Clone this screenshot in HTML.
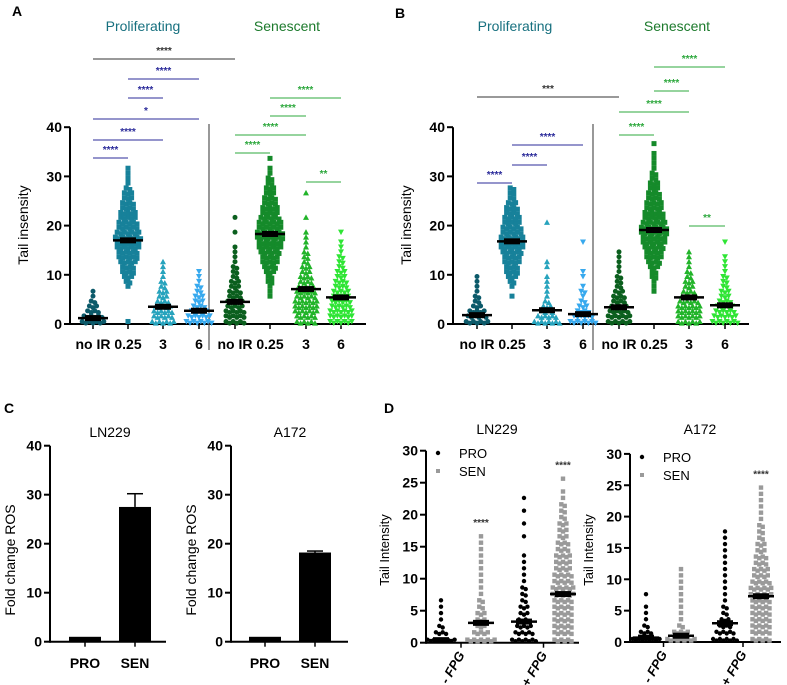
<!DOCTYPE html>
<html><head><meta charset="utf-8"><style>
html,body{margin:0;padding:0;background:#fff;}
svg{display:block;font-family:"Liberation Sans",sans-serif;}
.tk{font-weight:bold;font-size:14px;}
.xl{font-weight:bold;font-size:14px;}
</style></head><body>
<svg id="fig" width="787" height="685" viewBox="0 0 787 685" xmlns="http://www.w3.org/2000/svg">
<text x="12" y="16" font-weight="bold" font-size="14">A</text>
<text x="395" y="18" font-weight="bold" font-size="14">B</text>
<text x="4" y="413" font-weight="bold" font-size="14">C</text>
<text x="384" y="413" font-weight="bold" font-size="14">D</text>
<g id="g"></g>
</svg>
<script>
// ---- Panel A data (counts per 1-unit bin, starting at 0) ----
const catsAB = ["no IR","0.25","3","6","no IR","0.25","3","6"];
const yTicksAB = [0,10,20,30,40];
const aCounts = [
 [7,6,4,3,2,1,1],
 [1,0,0,0,0,0,0,1,2,3,4,4,5,6,6,7,7,8,7,6,6,5,5,4,4,3,3,2,1,1,1,1],
 [7,6,6,5,4,3,3,2,2,1,1,1,1],
 [8,7,5,4,3,3,2,2,1,1,1],
 [6,6,6,5,5,4,4,3,3,2,2,2,1,1,1,1,0,0,1,0,0,1],
 [0,0,0,0,0,1,1,1,2,2,3,4,5,5,6,7,7,8,8,7,7,6,5,5,4,4,3,3,2,2,1,1,0,1],
 [6,6,7,7,7,6,6,5,4,4,3,3,2,2,2,1,1,1,1,0,0,1,0,0,0,0,1],
 [7,7,7,6,6,5,5,4,4,3,3,2,2,2,1,1,1,0,1]
];
const aMeans = [1.2,17.0,3.5,2.7,4.5,18.3,7.1,5.4];
// ---- Panel B data ----
const bCounts = [
 [7,6,5,3,2,2,1,1,1,1],
 [0,0,0,0,0,1,0,1,2,3,4,4,5,5,6,7,7,7,6,6,5,5,4,4,3,2,2,2],
 [8,6,4,3,2,1,1,1,1,1,0,1,1,0,0,0,0,0,0,0,1],
 [8,6,4,3,2,1,2,1,0,1,1,0,0,0,0,0,1],
 [7,7,6,5,4,4,3,2,2,2,1,1,1,1,1],
 [0,0,0,0,0,0,1,1,1,2,2,3,4,5,5,6,7,7,8,8,7,6,6,5,5,4,4,3,3,2,2,1,1,1,1,0,1],
 [7,7,7,7,6,5,4,3,3,2,2,1,1,1,1],
 [8,7,6,5,4,3,3,2,2,2,1,1,1,1,0,0,1]
];
const bMeans = [1.8,16.8,2.8,2.0,3.4,19.1,5.4,3.8];
// ---- Panel C data ----
const cCats = ["PRO","SEN"];
const cTicks = [0,10,20,30,40];
const cLN229 = [1,27.5];
const cLN229Err = [0,2.7];
const cA172 = [1,18.2];
const cA172Err = [0,0.3];
// ---- Panel D data ----
const dCats = ["- FPG","+ FPG"];
const dTicks = [0,5,10,15,20,25,30];
const dLN229Counts = [
 [9,4,2,1,1,1,1],
 [9,5,3,3,3,2,2,1,1,1,1,1,1,1,1,1,1],
 [8,6,5,4,3,3,2,2,2,1,1,1,1,1,0,0,1,0,1,0,1,0,1],
 [6,6,6,6,6,6,6,7,7,6,6,5,5,5,4,4,3,3,3,2,2,2,1,1,0,1]
];
const dLN229Means = [0.4,3.1,3.3,7.6];
const dLN229Sig = ["","****","","****"];
const dA172Counts = [
 [9,4,2,1,1,1,0,1],
 [9,5,2,1,1,1,1,1,1,1,1,1],
 [8,6,4,3,2,2,1,1,1,1,1,1,1,1,1,1,1,1],
 [6,6,6,6,6,6,6,7,7,6,5,5,4,4,3,3,2,2,2,1,1,1,1,1,1]
];
const dA172Means = [0.7,1.0,3.0,7.3];
const dA172Sig = ["","","","****"];

const NS="http://www.w3.org/2000/svg";
const G=document.getElementById('g');
function el(tag,attrs,parent){const e=document.createElementNS(NS,tag);for(const k in attrs)e.setAttribute(k,attrs[k]);(parent||G).appendChild(e);return e;}
function txt(x,y,s,attrs){const e=el('text',Object.assign({x:x,y:y},attrs||{}));e.textContent=s;return e;}

function yAxis(x0,ys,ticks,name){
  const g=el('g',{});
  
  
  el('line',{x1:x0,x2:x0,y1:ys(ticks[ticks.length-1]),y2:ys(ticks[0])+1,stroke:'#000','stroke-width':2},g);
  ticks.forEach(t=>{el('line',{x1:x0-6,x2:x0,y1:ys(t),y2:ys(t),stroke:'#000','stroke-width':2},g);
    const e=txt(x0-8,ys(t)+5,String(t),{'text-anchor':'end',class:'tk'});g.appendChild(e);});
}
function xAxis(x0,x1,y,xs,name){
  const g=el('g',{});
  
  
  el('line',{x1:x0,x2:x1,y1:y,y2:y,stroke:'#000','stroke-width':2},g);
  xs.forEach(x=>el('line',{x1:x,x2:x,y1:y,y2:y+5,stroke:'#000','stroke-width':1.5},g));
}
function marker(g,x,y,shape,color,sz){
  let e;
  if(shape==='c') e=el('circle',{cx:x,cy:y,r:sz/2,fill:color},g);
  else if(shape==='s') e=el('rect',{x:x-sz/2,y:y-sz/2,width:sz,height:sz,fill:color},g);
  else if(shape==='t') e=el('polygon',{points:`${x},${y-sz/2-0.5} ${x-sz/2-0.5},${y+sz/2} ${x+sz/2+0.5},${y+sz/2}`,fill:color},g);
  else e=el('polygon',{points:`${x},${y+sz/2+0.5} ${x-sz/2-0.5},${y-sz/2} ${x+sz/2+0.5},${y-sz/2}`,fill:color},g);
  return e;
}
function swarm(x,ys,counts,color,shape,sp,sz,name){
  const g=el('g',{});
  
  
  counts.forEach((n,i)=>{
    const y=i===0?ys(0.35):ys(i+0.5);
    for(let j=0;j<n;j++){
      const off=(j-(n-1)/2)*sp;
      const m=marker(g,x+off,y+((j%2)?1:-1)*0.8,shape,color,sz);
      
      
    }
  });
}
function meanBar(x,ys,v,w,name){
  const g=el('g',{});
  
  
  el('rect',{x:x-8,y:ys(v)-3,width:16,height:6,fill:'#000'},g);
  el('line',{x1:x-w/2,x2:x+w/2,y1:ys(v),y2:ys(v),stroke:'#000','stroke-width':2.5},g);
}
function sig(x1,x2,y,label,color,name){
  const g=el('g',{});
  
  
  el('line',{x1:x1,x2:x2,y1:y,y2:y,stroke:color,'stroke-width':1},g);
  const t=txt((x1+x2)/2,y-5,label,{'text-anchor':'middle','font-size':10,'font-weight':'bold',fill:color});g.appendChild(t);
}

// ---------- Panels A & B ----------
const colorsAB=['#0c5a6a','#17819a','#27a3bd','#37a9ee','#0b5f1e','#158a2a','#22b42a','#2fe535'];
const shapesAB=['c','s','t','v','c','s','t','v'];
function panelAB(cfg,counts,means,tag){
  const ys=v=>324-v*4.92;
  yAxis(cfg.ax,ys,yTicksAB,tag+'-y-axis');
  xAxis(cfg.ax,cfg.end,324,cfg.xs,tag+'-x-axis');
  const dv=el('line',{x1:cfg.div,x2:cfg.div,y1:124,y2:350,stroke:'#555','stroke-width':1.2});
  
  
  counts.forEach((c,i)=>swarm(cfg.xs[i],ys,c,colorsAB[i],shapesAB[i],3.6,5,tag+'-swarm-'+i));
  means.forEach((m,i)=>meanBar(cfg.xs[i],ys,m,30,tag+'-mean-'+i));
  catsAB.forEach((c,i)=>{const t=txt(cfg.xs[i],349,c,{'text-anchor':'middle',class:'xl'});
    
    });
  const yl=txt(0,0,'Tail insensity',{'text-anchor':'middle','font-size':14,transform:`translate(${cfg.ax-42},225) rotate(-90)`});
  
  
  const p=txt(cfg.pt,31,'Proliferating',{'text-anchor':'middle','font-size':14,fill:'#17707f'});
  
  
  const s=txt(cfg.st,31,'Senescent',{'text-anchor':'middle','font-size':14,fill:'#1c7a2c'});
  
  
}
const xsA=[93,128,163,199,235,270,306,341];
panelAB({ax:70,end:366,div:209,xs:xsA,pt:143,st:287},aCounts,aMeans,'panel-a');
const blue='#2b2b9a', grn='#2ea83e';
sig(xsA[0],xsA[4],59,'****','#333','a-sig-black');
sig(xsA[1],xsA[3],79,'****',blue,'a-sig-1');
sig(xsA[1],xsA[2],98,'****',blue,'a-sig-2');
sig(xsA[0],xsA[3],119,'*',blue,'a-sig-3');
sig(xsA[0],xsA[2],140,'****',blue,'a-sig-4');
sig(xsA[0],xsA[1],158,'****',blue,'a-sig-5');
sig(xsA[5],xsA[7],98,'****',grn,'a-sig-6');
sig(xsA[5],xsA[6],116,'****',grn,'a-sig-7');
sig(xsA[4],xsA[6],135,'****',grn,'a-sig-8');
sig(xsA[4],xsA[5],153,'****',grn,'a-sig-9');
sig(xsA[6],xsA[7],182,'**',grn,'a-sig-10');

const xsB=[477,512,547,583,619,654,689,725];
panelAB({ax:453,end:749,div:593,xs:xsB,pt:515,st:677},bCounts,bMeans,'panel-b');
sig(xsB[0],xsB[4],97,'***','#333','b-sig-black');
sig(xsB[0],xsB[1],183,'****',blue,'b-sig-1');
sig(xsB[1],xsB[2],165,'****',blue,'b-sig-2');
sig(xsB[1],xsB[3],145,'****',blue,'b-sig-3');
sig(xsB[4],xsB[5],135,'****',grn,'b-sig-4');
sig(xsB[4],xsB[6],112,'****',grn,'b-sig-5');
sig(xsB[5],xsB[6],91,'****',grn,'b-sig-6');
sig(xsB[5],xsB[7],67,'****',grn,'b-sig-7');
sig(xsB[6],xsB[7],226,'**',grn,'b-sig-8');

// ---------- Panel C ----------
function panelC(ax,xs,end,vals,errs,title,tx,tag){
  const ys=v=>641.7-v*4.9;
  yAxis(ax,ys,cTicks,tag+'-y-axis');
  xAxis(ax,end,641.7,xs,tag+'-x-axis');
  vals.forEach((v,i)=>{
    const r=el('rect',{x:xs[i]-16,y:ys(v),width:32,height:ys(0)-ys(v),fill:'#000'});
    
    
    if(errs[i]>0){
      el('line',{x1:xs[i],x2:xs[i],y1:ys(v),y2:ys(v+errs[i]),stroke:'#000','stroke-width':1.5});
      el('line',{x1:xs[i]-8,x2:xs[i]+8,y1:ys(v+errs[i]),y2:ys(v+errs[i]),stroke:'#000','stroke-width':1.5});
    }
    const t=txt(xs[i],668,cCats[i],{'text-anchor':'middle',class:'xl'});
    
    
  });
  const yl=txt(0,0,'Fold change ROS',{'text-anchor':'middle','font-size':14,transform:`translate(${ax-35},560) rotate(-90)`});
  
  
  const tt=txt(tx,437,title,{'text-anchor':'middle','font-size':14});
  
  
}
panelC(50,[85,135],166,cLN229,cLN229Err,'LN229',110,'panel-c-ln229');
panelC(231,[265,315],348,cA172,cA172Err,'A172',290,'panel-c-a172');

// ---------- Panel D ----------
function panelD(ax,y0,unit,xs,end,counts,means,sigs,title,tx,legY,tag){
  const ys=v=>y0-v*unit;
  yAxis(ax,ys,dTicks,tag+'-y-axis');
  xAxis(ax,end,y0,[ (xs[0]+xs[1])/2,(xs[2]+xs[3])/2 ],tag+'-x-axis');
  counts.forEach((c,i)=>swarm(xs[i],ys,c,i%2?'#9a9a9a':'#000',i%2?'s':'c',3.4,4.4,tag+'-swarm-'+i));
  means.forEach((m,i)=>meanBar(xs[i],ys,m,26,tag+'-mean-'+i));
  sigs.forEach((sg,i)=>{if(!sg)return;const top=counts[i].length;const s=txt(xs[i],ys(top)-8,sg,{'text-anchor':'middle','font-size':10,'font-weight':'bold',fill:'#333'});
    
    });
  dCats.forEach((c,i)=>{const cx=(xs[2*i]+xs[2*i+1])/2;
    const t=txt(0,0,c,{'text-anchor':'end','font-size':13,'font-weight':'bold','font-style':'italic',transform:`translate(${cx+4},${y0+12}) rotate(-60)`});
    
    });
  const yl=txt(0,0,'Tail Intensity',{'text-anchor':'middle','font-size':13,transform:`translate(${ax-37},550) rotate(-90)`});
  
  
  const tt=txt(tx,434,title,{'text-anchor':'middle','font-size':14});
  
  
  const lg=el('g',{});
  
  
  el('circle',{cx:ax+12,cy:legY,r:2.2,fill:'#000'},lg);
  el('rect',{x:ax+10,y:legY+16,width:4,height:4,fill:'#9a9a9a'},lg);
  lg.appendChild(txt(ax+33,legY+5,'PRO',{'font-size':13}));
  lg.appendChild(txt(ax+33,legY+23,'SEN',{'font-size':13}));
}
panelD(426,642.7,6.4,[441,481,524,563],579,dLN229Counts,dLN229Means,dLN229Sig,'LN229',497,453,'panel-d-ln229');
panelD(630,642,6.27,[646,681,725,761],781,dA172Counts,dA172Means,dA172Sig,'A172',700,457,'panel-d-a172');
</script>
</body></html>
